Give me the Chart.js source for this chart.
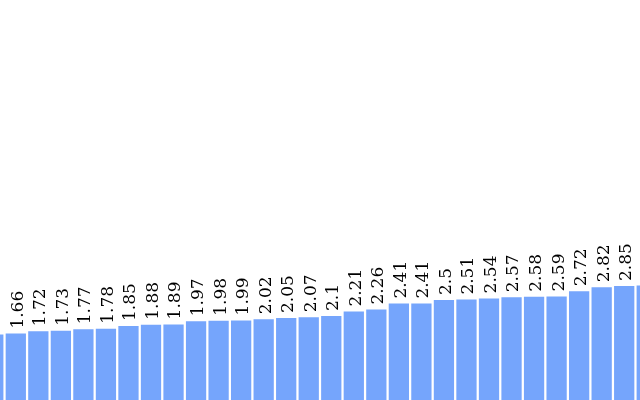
<!DOCTYPE html>
<html>
<head>
<meta charset="utf-8">
<script src="https://cdn.jsdelivr.net/npm/chart.js@4"></script>
<style>
  html, body { margin: 0; padding: 0; width: 640px; height: 400px; overflow: hidden; background: #fff; }
  #wrap { position: absolute; left: -18px; top: 0; width: 676px; height: 400px; }
</style>
</head>
<body>
<div id="wrap"><canvas id="myChart" width="676" height="400"></canvas></div>
<script>
const labels = ["a1", "a2", "a3", "a4", "a5", "a6", "a7", "a8", "a9", "a10",
  "a11", "a12", "a13", "a14", "a15", "a16", "a17", "a18", "a19", "a20",
  "a21", "a22", "a23", "a24", "a25", "a26", "a27", "a28", "a29", "a30"];
const values = [1.64, 1.66, 1.72, 1.73, 1.77, 1.78, 1.85, 1.88, 1.89, 1.97,
  1.98, 1.99, 2.02, 2.05, 2.07, 2.1, 2.21, 2.26, 2.41, 2.41,
  2.5, 2.51, 2.54, 2.57, 2.58, 2.59, 2.72, 2.82, 2.85, 2.86];

const barLabels = {
  id: "barLabels",
  afterDatasetsDraw(chart) {
    const ctx = chart.ctx;
    const meta = chart.getDatasetMeta(0);
    ctx.save();
    ctx.fillStyle = "#000";
    ctx.font = "17px 'DejaVu Serif'";
    ctx.textAlign = "left";
    ctx.textBaseline = "middle";
    meta.data.forEach(function (bar, i) {
      ctx.save();
      ctx.translate(bar.x + 2.5, bar.y - 5);
      ctx.rotate(-Math.PI / 2);
      ctx.fillText(String(values[i]), 0, 0);
      ctx.restore();
    });
    ctx.restore();
  }
};

const config = {
  type: "bar",
  data: {
    labels: labels,
    datasets: [{
      data: values,
      backgroundColor: "#75a5fc",
      borderWidth: 0,
      categoryPercentage: 1,
      barPercentage: 0.9
    }]
  },
  options: {
    responsive: false,
    animation: false,
    layout: { padding: 0 },
    plugins: {
      legend: { display: false },
      tooltip: { enabled: false }
    },
    scales: {
      x: { display: false },
      y: { display: false, min: 0, max: 10 }
    }
  },
  plugins: [barLabels]
};

new Chart(document.getElementById("myChart"), config);
</script>
</body>
</html>
